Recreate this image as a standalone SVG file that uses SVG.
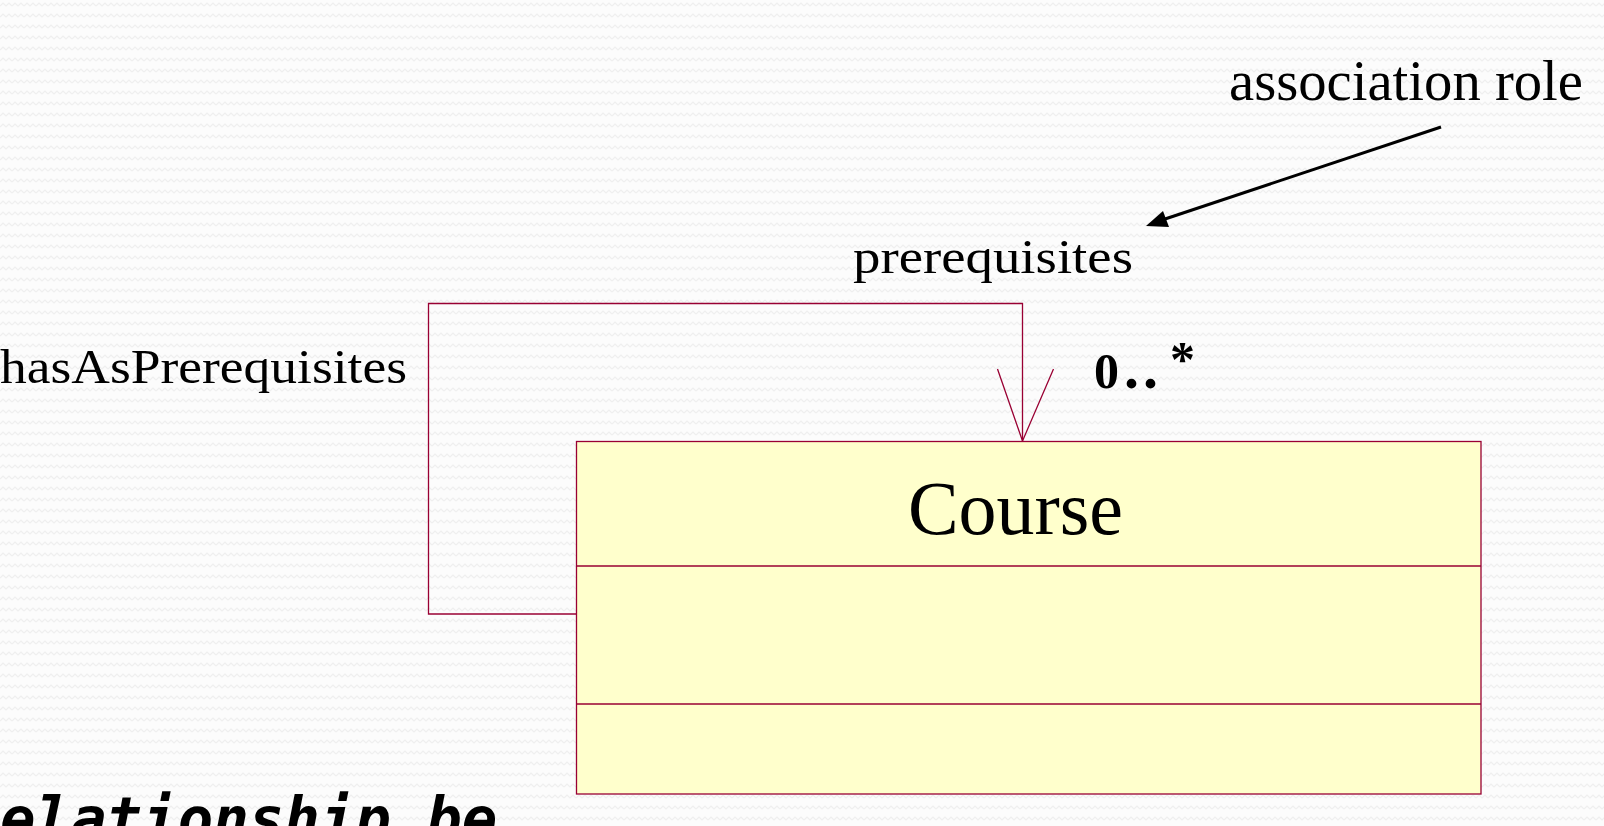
<svg xmlns="http://www.w3.org/2000/svg" width="1604" height="826" viewBox="0 0 1604 826">
<style>
.serif{font-family:"Liberation Serif","Times New Roman",serif;fill:#000}
.cls{fill:#ffffcc;stroke:#990033;stroke-width:1.3}
.div{stroke:#990033;stroke-width:1.3}
.assoc{fill:none;stroke:#990033;stroke-width:1.3}
.note{fill:none;stroke:#000;stroke-width:3}
</style>
<defs>
<pattern id="bg" width="12" height="11" patternUnits="userSpaceOnUse">
<rect width="12" height="11" fill="#fcfcfc"/>
<polyline points="0,6 3,3 6,6 9,3 12,6" fill="none" stroke="#efefef" stroke-width="1.2"/>
</pattern>
</defs>
<rect width="1604" height="826" fill="url(#bg)"/>

<g id="connectors">
<g id="assoc-prerequisites">
<polyline class="assoc" points="576,614 428.5,614 428.5,303.5 1022.5,303.5 1022.5,441"/>
<polyline class="assoc" points="997.5,369 1022.5,441 1053.5,369"/>
</g>
<g id="note-arrow">
<line class="note" x1="1441" y1="127" x2="1165" y2="219"/>
<path d="M1146,226 L1163,211 L1169,227 Z" fill="#000"/>
</g>
</g>

<g id="label-association-role">
<text class="serif" x="1229" y="100" font-size="56" textLength="354" lengthAdjust="spacingAndGlyphs">association role</text>
</g>
<g id="label-prerequisites">
<text class="serif" x="853" y="273" font-size="48" textLength="280" lengthAdjust="spacingAndGlyphs">prerequisites</text>
</g>
<g id="label-hasAsPrerequisites">
<text class="serif" x="0" y="383" font-size="48" textLength="407" lengthAdjust="spacingAndGlyphs">hasAsPrerequisites</text>
</g>
<g id="label-multiplicity">
<text class="serif" x="1094" y="388" font-size="50" font-weight="bold" style="font-variant-numeric:oldstyle-nums">0<tspan x="1124" font-size="60">.</tspan><tspan x="1143" font-size="60">.</tspan><tspan x="1170" dy="-12" font-size="50">*</tspan></text>
</g>

<g id="node-course">
<rect class="cls" x="576.5" y="441.5" width="904.5" height="352.5"/>
<line class="div" x1="576.5" y1="566" x2="1481" y2="566"/>
<line class="div" x1="576.5" y1="704" x2="1481" y2="704"/>
<text class="serif" x="908" y="534" font-size="76" textLength="215" lengthAdjust="spacingAndGlyphs">Course</text>
</g>

<g id="caption">
<text x="-35.5" y="839" font-family="'DejaVu Sans Mono','Liberation Mono',monospace" font-weight="bold" font-style="italic" font-size="59" fill="#000">relationship be</text>
</g>
</svg>
